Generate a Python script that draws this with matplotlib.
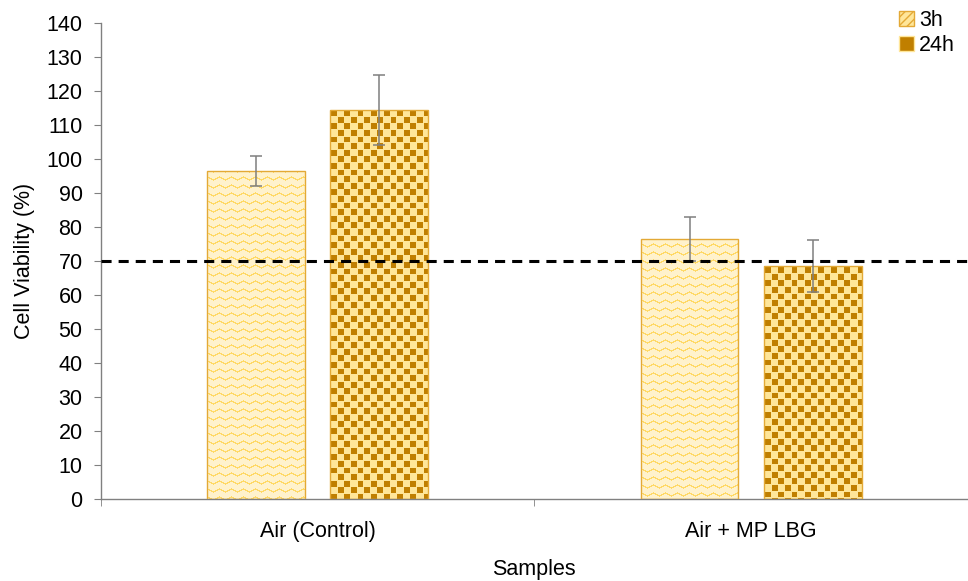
import numpy as np
import matplotlib.pyplot as plt
from matplotlib.patches import Patch

plt.rcParams['font.family'] = ['Liberation Sans', 'DejaVu Sans']

categories = ['Air (Control)', 'Air + MP LBG']
series = ['3h', '24h']
viability_3h = [96.5, 76.5]
viability_24h = [114.5, 68.5]
err_3h = [4.3, 6.6]
err_24h = [10.2, 7.6]
threshold = 70
y_ticks = list(range(0, 141, 10))

DPI = 100
FS = 15.5


def wave_texture(h, w):
    # cream background with soft yellow zigzag lines
    img = np.ones((h, w, 3))
    img[:] = np.array([255, 242, 204]) / 255
    line = np.array([255, 217, 102]) / 255
    yy, xx = np.mgrid[0:h, 0:w]
    tri = np.abs(((xx % 12) / 6.0) - 1.0) * 3.0
    mask = ((yy + tri) % 8) < 1.5
    img[mask] = line
    return img


def checker_texture(h, w):
    img = np.ones((h, w, 3))
    img[:] = np.array([255, 230, 153]) / 255
    dark = np.array([192, 127, 0]) / 255
    yy, xx = np.mgrid[0:h, 0:w]
    cell = 6.6
    mask = ((np.floor(xx / cell) + np.floor(yy / cell)) % 2 == 0)
    inner = ((xx % cell) > 0.8) & ((yy % cell) > 0.8)
    img[mask & inner] = dark
    return img


fig = plt.figure(figsize=(9.68, 5.81), dpi=DPI)
ax = fig.add_axes([0.104, 0.141, 0.896, 0.819])

x = np.arange(len(categories))
width = 0.225
off = 0.142
edge = '#E3A936'

bars_3h = ax.bar(x - off, viability_3h, width, facecolor='none', edgecolor=edge, lw=1.0, zorder=3)
bars_24h = ax.bar(x + off, viability_24h, width, facecolor='none', edgecolor=edge, lw=1.0, zorder=3)

ax.set_xlim(-0.5, 1.5)
ax.set_ylim(0, 140)
fig.canvas.draw()

px_per_x = ax.bbox.width / 2.0
px_per_y = ax.bbox.height / 140.0
for bars, tex in [(bars_3h, wave_texture), (bars_24h, checker_texture)]:
    for b in bars:
        x0, w, h = b.get_x(), b.get_width(), b.get_height()
        wp = max(int(round(w * px_per_x)), 1)
        hp = max(int(round(h * px_per_y)), 1)
        im = ax.imshow(tex(hp, wp), extent=(x0, x0 + w, 0, h), aspect='auto',
                       interpolation='nearest', origin='upper', zorder=2)
        im.set_clip_path(b)

ax.errorbar(x - off, viability_3h, yerr=err_3h, fmt='none', ecolor='#7F7F7F',
            elinewidth=1.1, capsize=4, capthick=1.1, zorder=4)
ax.errorbar(x + off, viability_24h, yerr=err_24h, fmt='none', ecolor='#7F7F7F',
            elinewidth=1.1, capsize=4, capthick=1.1, zorder=4)

ax.axhline(threshold, color='black', lw=2.2, dashes=(3.3, 2.3), zorder=5)

ax.set_xlim(-0.5, 1.5)
ax.set_ylim(0, 140)
ax.set_yticks(y_ticks)
ax.set_xticks(x)
ax.set_xticklabels(categories)
ax.set_xticks([-0.5, 0.5, 1.5], minor=True)
ax.tick_params(axis='x', which='major', length=0, pad=16, labelsize=FS)
ax.tick_params(axis='x', which='minor', length=5, color='#808080', direction='out')
ax.tick_params(axis='y', length=5, color='#808080', direction='out', labelsize=FS, pad=8)

for s in ['top', 'right']:
    ax.spines[s].set_visible(False)
for s in ['left', 'bottom']:
    ax.spines[s].set_color('#808080')
    ax.spines[s].set_linewidth(1.0)

ax.set_ylabel('Cell Viability (%)', fontsize=FS, labelpad=8)
ax.set_xlabel('Samples', fontsize=FS, va='center')
ax.xaxis.set_label_coords(0.5, -0.147)

handles = [Patch(facecolor='#FFE699', edgecolor=edge, hatch='////', label=series[0]),
           Patch(facecolor='#C07F00', edgecolor='#FFE699', label=series[1])]
ax.legend(handles=handles, loc='upper right', bbox_to_anchor=(1.0, 1.055), frameon=False,
          fontsize=FS, handlelength=0.7, handleheight=0.7, handletextpad=0.25,
          labelspacing=0.2, borderaxespad=0.2)

fig.savefig('out.png', dpi=DPI)
